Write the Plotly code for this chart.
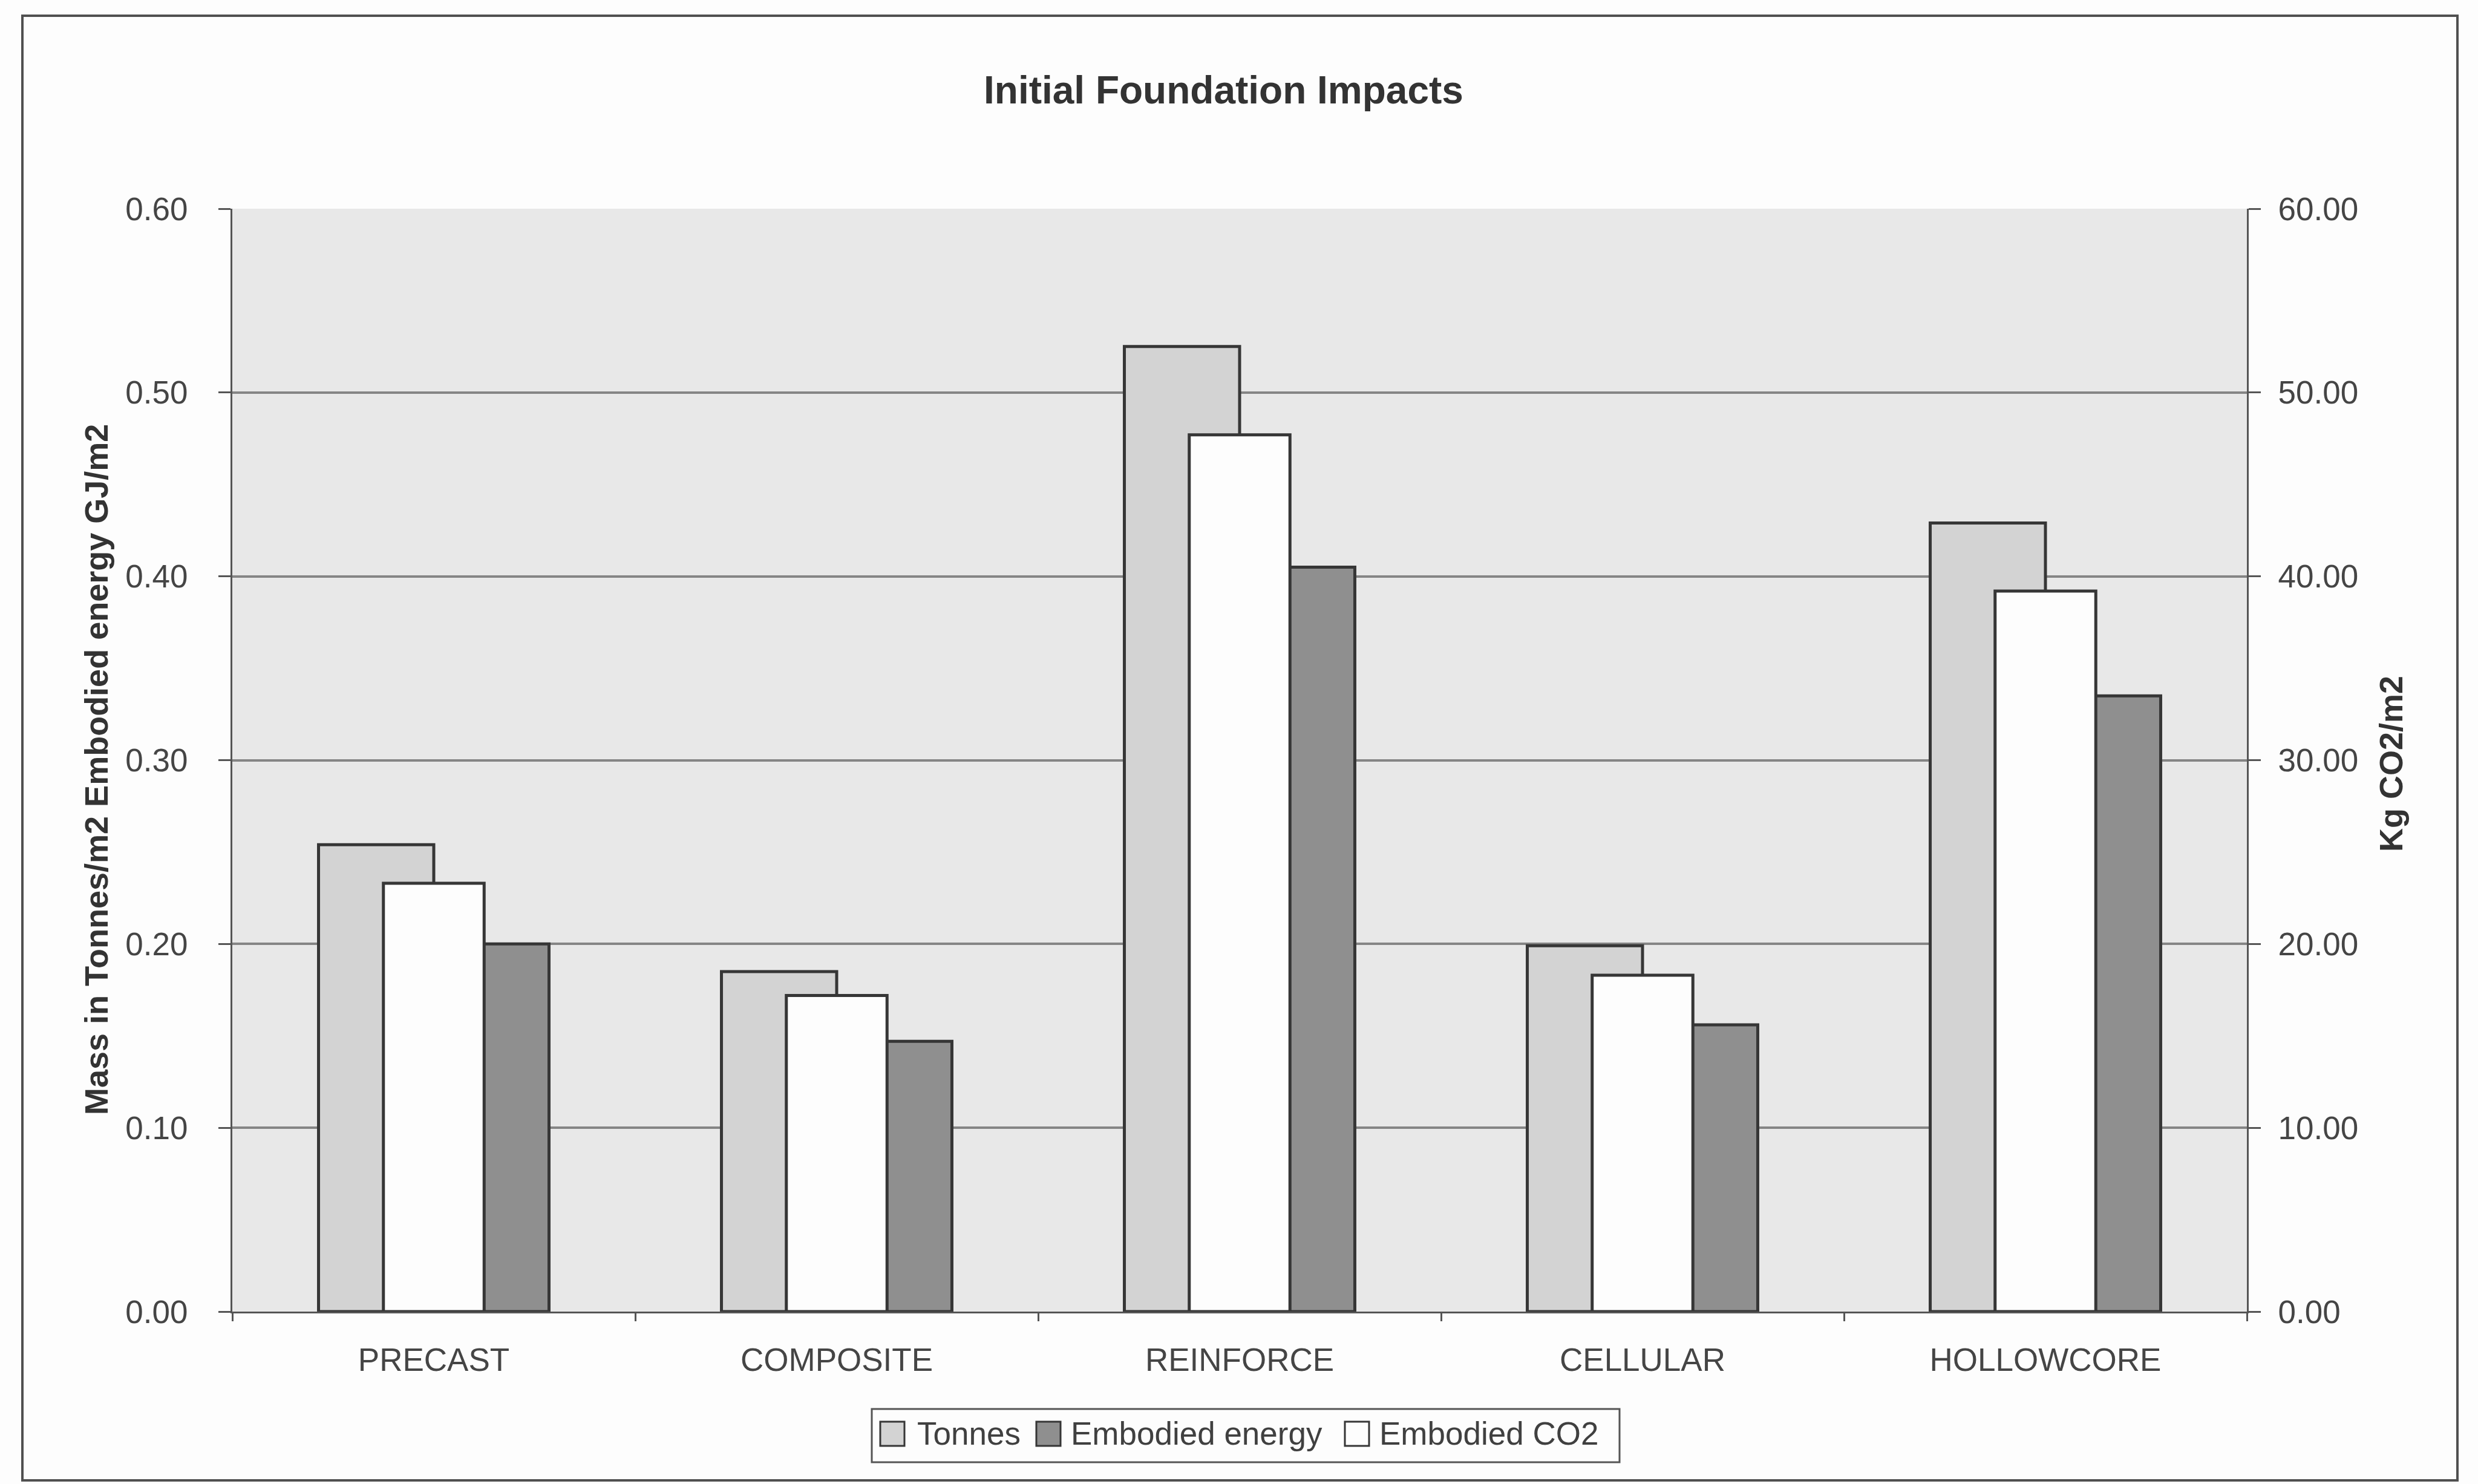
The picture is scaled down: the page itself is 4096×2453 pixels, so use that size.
import plotly.graph_objects as go

# ---- data -------------------------------------------------------------
categories = ["PRECAST", "COMPOSITE", "REINFORCE", "CELLULAR", "HOLLOWCORE"]
tonnes = [0.254, 0.185, 0.525, 0.199, 0.429]           # t/m2 (left axis)
embodied_energy = [0.200, 0.147, 0.405, 0.156, 0.335]  # GJ/m2 (left axis)
embodied_co2 = [23.3, 17.2, 47.7, 18.3, 39.2]          # kg CO2/m2 (right axis)

left_ticks = [0.0, 0.1, 0.2, 0.3, 0.4, 0.5, 0.6]
right_ticks = [0, 10, 20, 30, 40, 50, 60]

# ---- page geometry (pixels) -------------------------------------------
W, H = 4096, 2453
L, R, T, B = 384, 3714, 345, 2168
PW, PH = R - L, B - T


def px(x):
    return (x - L) / PW


def py(y):
    return (B - y) / PH


FONT = "Liberation Sans, Arial, Helvetica, sans-serif"
TXT = "#454545"
EDGE = "#363636"

fig = go.Figure()

bar_w = 0.286
fig.add_trace(go.Bar(
    x=categories, y=tonnes, name="Tonnes",
    width=bar_w, offset=-bar_w,
    marker=dict(color="#d3d3d3", line=dict(color=EDGE, width=5)),
))
fig.add_trace(go.Bar(
    x=categories, y=embodied_energy, name="Embodied energy",
    width=bar_w, offset=0,
    marker=dict(color="#8f8f8f", line=dict(color=EDGE, width=5)),
))
fig.add_trace(go.Bar(
    x=categories, y=embodied_co2, name="Embodied CO2", yaxis="y2",
    width=0.25, offset=-0.125,
    marker=dict(color="#fdfdfd", line=dict(color=EDGE, width=5)),
))

tickfont = dict(family=FONT, size=53, color=TXT)

fig.update_layout(
    width=W, height=H, autosize=False,
    margin=dict(l=L, r=W - R, t=T, b=H - B, pad=0),
    paper_bgcolor="#fdfdfd",
    plot_bgcolor="#e8e8e8",
    barmode="overlay",
    showlegend=False,
    xaxis=dict(
        type="category", range=[-0.5, 4.5],
        showgrid=False, zeroline=False,
        showline=True, linecolor="#555555", linewidth=3,
        ticks="outside", tickson="boundaries", ticklen=13,
        tickwidth=3, tickcolor="#555555",
        tickfont=tickfont, ticklabelstandoff=31,
    ),
    yaxis=dict(
        range=[0, 0.6], tickvals=left_ticks,
        ticktext=[f"{v:.2f}" for v in left_ticks],
        showgrid=True, gridcolor="#858585", gridwidth=3.5,
        zeroline=False,
        showline=True, linecolor="#555555", linewidth=3,
        ticks="outside", ticklen=20, tickwidth=3, tickcolor="#555555",
        tickfont=tickfont, ticklabelstandoff=40,
    ),
    yaxis2=dict(
        range=[0, 60], tickvals=right_ticks,
        ticktext=[f"{v:.2f}" for v in right_ticks],
        overlaying="y", side="right",
        showgrid=False, zeroline=False,
        showline=True, linecolor="#555555", linewidth=3,
        ticks="outside", ticklen=20, tickwidth=3, tickcolor="#555555",
        tickfont=tickfont, ticklabelstandoff=18,
    ),
)

annotations = [
    dict(text="<b>Initial Foundation Impacts</b>", x=px(2022), y=py(149),
         font=dict(family=FONT, size=64, color="#333333")),
    dict(text="<b>Mass in Tonnes/m2 Embodied energy GJ/m2</b>",
         x=px(159), y=py(1272), textangle=-90,
         font=dict(family=FONT, size=54, color="#333333")),
    dict(text="<b>Kg CO2/m2</b>", x=px(3952), y=py(1263), textangle=-90,
         font=dict(family=FONT, size=54, color="#333333")),
]
for a in annotations:
    a.update(xref="paper", yref="paper", xanchor="center", yanchor="middle",
             showarrow=False)

shapes = [
    # outer chart frame
    dict(type="rect", xref="paper", yref="paper",
         x0=px(37), x1=px(4062), y0=py(26), y1=py(2447),
         line=dict(color="#505050", width=4), layer="below"),
    # legend box
    dict(type="rect", xref="paper", yref="paper",
         x0=px(1441), x1=px(2677), y0=py(2329), y1=py(2417),
         line=dict(color="#555555", width=3), fillcolor="#fdfdfd"),
]

legend_items = [
    ("Tonnes", "#d3d3d3", 1455, 1514),
    ("Embodied energy", "#8f8f8f", 1713, 1768),
    ("Embodied CO2", "#fdfdfd", 2223, 2278),
]
for label, color, sx, tx in legend_items:
    shapes.append(dict(type="rect", xref="paper", yref="paper",
                       x0=px(sx), x1=px(sx + 40), y0=py(2350), y1=py(2390),
                       line=dict(color=EDGE, width=3), fillcolor=color))
    annotations.append(dict(text=label, xref="paper", yref="paper",
                            x=px(tx), y=py(2369), xanchor="left",
                            yanchor="middle", showarrow=False,
                            font=dict(family=FONT, size=53, color="#404040")))

fig.update_layout(annotations=annotations, shapes=shapes)

fig.write_html("out.html")
